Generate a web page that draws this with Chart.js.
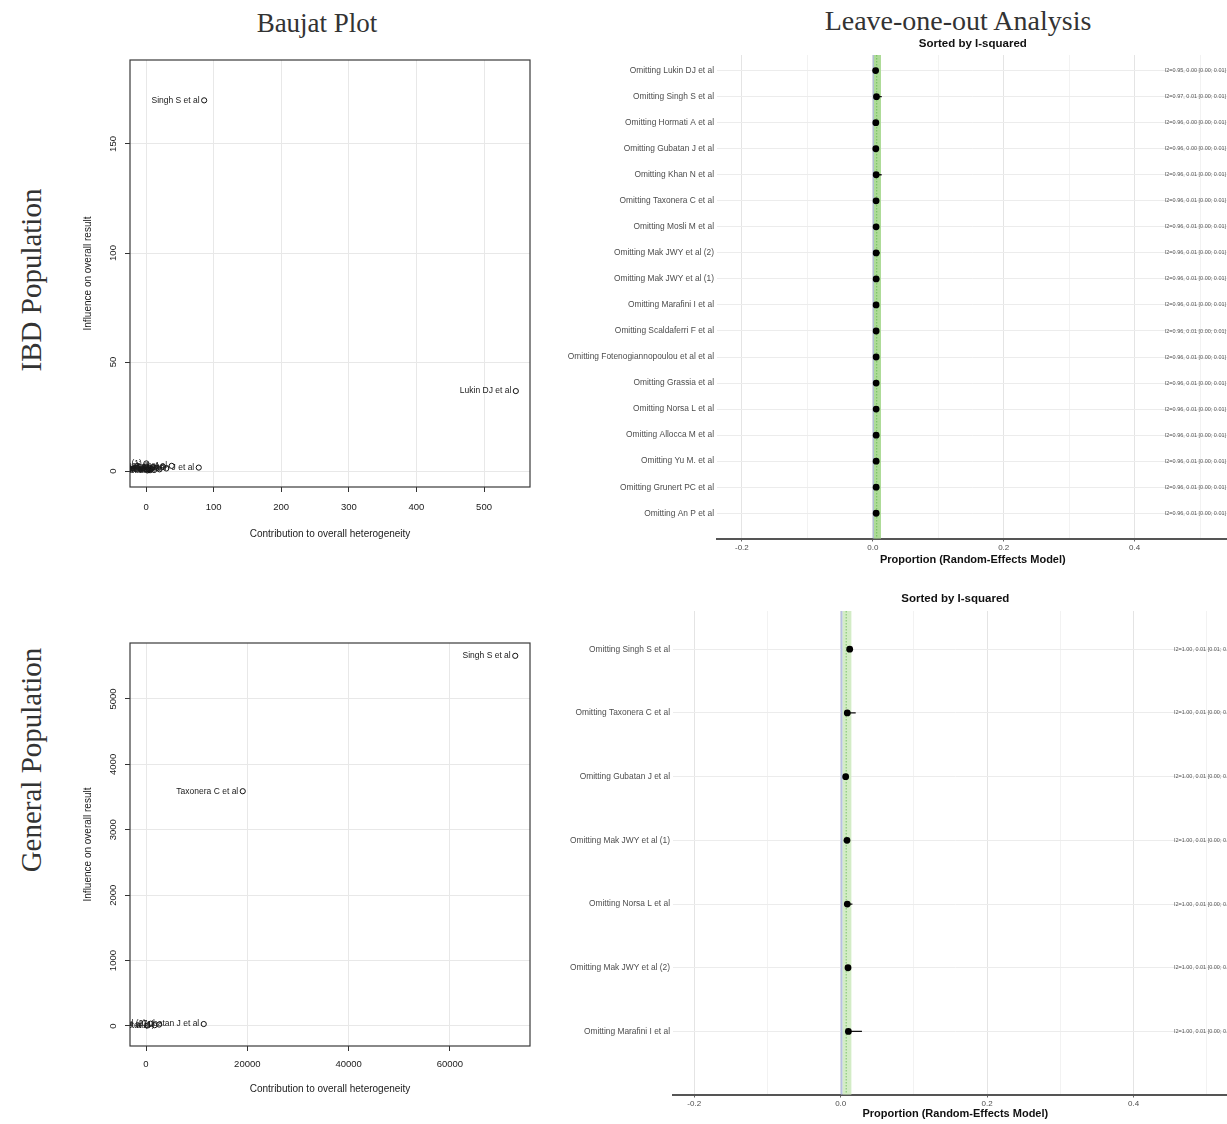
<!DOCTYPE html>
<html>
<head>
<meta charset="utf-8">
<title>Baujat Plot and Leave-one-out Analysis</title>
<script src="https://cdn.jsdelivr.net/npm/chart.js@4.4.1/dist/chart.umd.min.js"></script>
<style>
  html, body { margin:0; padding:0; background:#fff; }
  body { position:relative; width:1227px; height:1124px; overflow:hidden; }
  canvas { position:absolute; }
  .serif { position:absolute; font-family:"Liberation Serif","DejaVu Serif",serif; color:#333; white-space:nowrap; transform:translate(-50%,-50%); line-height:1; }
  .vert { transform:translate(-50%,-50%) rotate(-90deg); }
</style>
</head>
<body>
<div class="serif" style="left:317px;top:23px;font-size:27px;">Baujat Plot</div>
<div class="serif" style="left:958px;top:21px;font-size:28px;">Leave-one-out Analysis</div>
<div class="serif vert" style="left:31px;top:280px;font-size:29px;">IBD Population</div>
<div class="serif vert" style="left:31px;top:760px;font-size:29px;">General Population</div>
<canvas id="baujatIbd" width="510" height="510" style="left:40px;top:50px"></canvas>
<canvas id="baujatGen" width="510" height="510" style="left:40px;top:633px"></canvas>
<canvas id="looIbd" width="672" height="545" style="left:560px;top:30px"></canvas>
<canvas id="looGen" width="681" height="539" style="left:560px;top:585px"></canvas>
<script>
Chart.defaults.font.family = '"Liberation Sans", Arial, sans-serif';
Chart.defaults.animation = false;

// ---------- Baujat plot, IBD population ----------
const ibdBaujatStudies = ["Singh S et al", "Lukin DJ et al", "Gubatan J et al", "Hormati A et al", "Khan N et al",
  "Taxonera C et al", "Mosli M et al", "Mak JWY et al (2)", "Marafini I et al", "Scaldaferri F et al",
  "Fotenogiannopoulou et al et al", "Grassia et al", "Norsa L et al", "Allocca M et al", "Yu M. et al",
  "Grunert PC et al", "An P et al", "Mak JWY et al (1)"];
const ibdBaujatHeterogeneity = [86, 547, 78, 38, 30, 25, 20, 16, 12, 10, 8, 6, 5, 4, 3, 2, 1, 0.5];
const ibdBaujatInfluence = [170, 36.7, 1.6, 2.4, 1.2, 2.0, 0.8, 1.5, 0.5, 1.8, 1.0, 0.4, 1.3, 0.6, 0.9, 0.3, 0.7, 3.5];
const ibdBaujatXTicks = [0, 100, 200, 300, 400, 500];
const ibdBaujatYTicks = [0, 50, 100, 150];

// ---------- Baujat plot, general population ----------
const genBaujatStudies = ["Singh S et al", "Taxonera C et al", "Gubatan J et al", "Mak JWY et al (1)",
  "Norsa L et al", "Mak JWY et al (2)", "Marafini I et al"];
const genBaujatHeterogeneity = [72900, 19100, 11400, 2600, 1700, 900, 300];
const genBaujatInfluence = [5660, 3590, 30, 22, 12, 35, 8];
const genBaujatXTicks = [0, 20000, 40000, 60000];
const genBaujatYTicks = [0, 1000, 2000, 3000, 4000, 5000];

// ---------- Leave-one-out, IBD population (sorted by I-squared) ----------
const ibdLooLabels = ["Omitting Lukin DJ et al", "Omitting Singh S et al", "Omitting Hormati A et al",
  "Omitting Gubatan J et al", "Omitting Khan N et al", "Omitting Taxonera C et al", "Omitting Mosli M et al",
  "Omitting Mak JWY et al (2)", "Omitting Mak JWY et al (1)", "Omitting Marafini I et al",
  "Omitting Scaldaferri F et al", "Omitting Fotenogiannopoulou et al et al", "Omitting Grassia et al",
  "Omitting Norsa L et al", "Omitting Allocca M et al", "Omitting Yu M. et al", "Omitting Grunert PC et al",
  "Omitting An P et al"];
const ibdLooEstimate = [0.0043, 0.0056, 0.0046, 0.0046, 0.0051, 0.0050, 0.0050, 0.0051, 0.0051, 0.0050,
  0.0051, 0.0051, 0.0051, 0.0051, 0.0051, 0.0051, 0.0051, 0.0051];
const ibdLooLower = [0.0020, 0.0030, 0.0022, 0.0022, 0.0025, 0.0025, 0.0025, 0.0025, 0.0025, 0.0025,
  0.0025, 0.0025, 0.0025, 0.0025, 0.0025, 0.0025, 0.0025, 0.0025];
const ibdLooUpper = [0.0085, 0.0137, 0.0090, 0.0090, 0.0135, 0.0095, 0.0095, 0.0110, 0.0100, 0.0095,
  0.0095, 0.0095, 0.0095, 0.0095, 0.0095, 0.0095, 0.0095, 0.0095];
const ibdLooStats = ["I2=0.95, 0.00 [0.00; 0.01]", "I2=0.97, 0.01 [0.00; 0.01]", "I2=0.96, 0.00 [0.00; 0.01]",
  "I2=0.96, 0.00 [0.00; 0.01]", "I2=0.96, 0.01 [0.00; 0.01]", "I2=0.96, 0.01 [0.00; 0.01]",
  "I2=0.96, 0.01 [0.00; 0.01]", "I2=0.96, 0.01 [0.00; 0.01]", "I2=0.96, 0.01 [0.00; 0.01]",
  "I2=0.96, 0.01 [0.00; 0.01]", "I2=0.96, 0.01 [0.00; 0.01]", "I2=0.96, 0.01 [0.00; 0.01]",
  "I2=0.96, 0.01 [0.00; 0.01]", "I2=0.96, 0.01 [0.00; 0.01]", "I2=0.96, 0.01 [0.00; 0.01]",
  "I2=0.96, 0.01 [0.00; 0.01]", "I2=0.96, 0.01 [0.00; 0.01]", "I2=0.96, 0.01 [0.00; 0.01]"];
const ibdPooledBlue = [0, 0.0016];
const ibdPooledGreen = [0.0016, 0.0125];
const ibdPooledLine = 0.006;

// ---------- Leave-one-out, general population (sorted by I-squared) ----------
const genLooLabels = ["Omitting Singh S et al", "Omitting Taxonera C et al", "Omitting Gubatan J et al",
  "Omitting Mak JWY et al (1)", "Omitting Norsa L et al", "Omitting Mak JWY et al (2)", "Omitting Marafini I et al"];
const genLooEstimate = [0.0123, 0.0090, 0.0068, 0.0086, 0.0090, 0.0100, 0.0105];
const genLooLower = [0.0095, 0.0060, 0.0045, 0.0060, 0.0062, 0.0072, 0.0075];
const genLooUpper = [0.0160, 0.0205, 0.0100, 0.0125, 0.0160, 0.0140, 0.0290];
const genLooStats = ["I2=1.00, 0.01 [0.01; 0.02]", "I2=1.00, 0.01 [0.00; 0.02]", "I2=1.00, 0.01 [0.00; 0.01]",
  "I2=1.00, 0.01 [0.00; 0.01]", "I2=1.00, 0.01 [0.00; 0.02]", "I2=1.00, 0.01 [0.00; 0.01]", "I2=1.00, 0.01 [0.00; 0.03]"];
const genPooledBlue = [0, 0.0027];
const genPooledGreen = [0.0027, 0.0146];
const genPooledLine = 0.0075;

const looXTicks = [-0.2, -0.1, 0, 0.1, 0.2, 0.3, 0.4, 0.5];
const looMajorTicks = [-0.2, 0, 0.2, 0.4];

// ---------------------------------------------------------------
const isMajor = v => looMajorTicks.some(m => Math.abs(m - v) < 1e-9);

function baujat(id, names, xs, ys, xTicks, yTicks, g) {
  const boxPlugin = {
    id: 'box',
    beforeDatasetsDraw(chart) {
      const { ctx, chartArea: a } = chart;
      ctx.save();
      ctx.strokeStyle = '#3a3a3a';
      ctx.lineWidth = 1.2;
      ctx.strokeRect(a.left, a.top, a.right - a.left, a.bottom - a.top);
      ctx.restore();
    }
  };
  const labelPlugin = {
    id: 'studyLabels',
    afterDatasetsDraw(chart) {
      const { ctx, chartArea: a } = chart;
      const meta = chart.getDatasetMeta(0);
      ctx.save();
      ctx.beginPath();
      ctx.rect(a.left, a.top, a.right - a.left, a.bottom - a.top);
      ctx.clip();
      ctx.font = '8.5px "Liberation Sans", Arial, sans-serif';
      ctx.fillStyle = '#1a1a1a';
      ctx.textAlign = 'right';
      ctx.textBaseline = 'middle';
      meta.data.forEach((pt, i) => ctx.fillText(names[i], pt.x - 4.5, pt.y));
      ctx.restore();
    }
  };
  new Chart(document.getElementById(id), {
    type: 'scatter',
    data: { datasets: [{
      label: 'Studies',
      data: xs.map((v, i) => ({ x: v, y: ys[i] })),
      pointRadius: 2.6, pointHoverRadius: 2.6, pointBorderWidth: 1,
      pointBorderColor: '#111', pointBackgroundColor: 'rgba(0,0,0,0)'
    }] },
    options: {
      responsive: false, devicePixelRatio: 1, animation: false, events: [],
      layout: { padding: { left: 0, top: 10, right: 20, bottom: g.padBottom } },
      plugins: { legend: { display: false }, tooltip: { enabled: false } },
      scales: {
        x: {
          type: 'linear', min: g.xMin, max: g.xMax,
          afterBuildTicks: s => { s.ticks = xTicks.map(v => ({ value: v })); },
          afterFit: s => { s.height = 60; },
          ticks: { autoSkip: false, maxRotation: 0, padding: g.xTickPad, color: '#1a1a1a', font: { size: 9.5 },
                   callback: v => String(v) },
          grid: { color: '#e8e8e8', lineWidth: 1, tickColor: '#333', tickLength: 5 },
          border: { display: false },
          title: { display: true, text: 'Contribution to overall heterogeneity', color: '#1a1a1a',
                   font: { size: 10 }, padding: { top: 0, bottom: g.xTitlePad } }
        },
        y: {
          type: 'linear', min: g.yMin, max: g.yMax,
          afterBuildTicks: s => { s.ticks = yTicks.map(v => ({ value: v })); },
          afterFit: s => { s.width = 90; },
          ticks: { autoSkip: false, minRotation: 90, maxRotation: 90, crossAlign: 'center',
                   padding: g.yTickPad, color: '#1a1a1a', font: { size: 9.5 },
                   callback: v => String(v) },
          grid: { color: '#e8e8e8', lineWidth: 1, tickColor: '#333', tickLength: 5 },
          border: { display: false },
          title: { display: true, text: 'Influence on overall result', color: '#1a1a1a',
                   font: { size: 10 }, padding: { top: 42, bottom: 0 } }
        }
      }
    },
    plugins: [boxPlugin, labelPlugin]
  });
}

function forest(id, labels, est, lo, hi, stats, blue, green, refLine, g) {
  const forestPlugin = {
    id: 'forestMarks',
    beforeDatasetsDraw(chart) {
      const { ctx, chartArea: a, scales: { x, y } } = chart;
      ctx.save();
      const bx0 = x.getPixelForValue(blue[0]), bx1 = x.getPixelForValue(blue[1]);
      const gx0 = x.getPixelForValue(green[0]), gx1 = x.getPixelForValue(green[1]);
      ctx.fillStyle = g.blueColor;
      ctx.fillRect(bx0, a.top, bx1 - bx0, a.bottom - a.top);
      ctx.fillStyle = g.greenColor;
      ctx.fillRect(gx0, a.top, gx1 - gx0, a.bottom - a.top);
      ctx.strokeStyle = g.dotColor;
      ctx.lineWidth = 1;
      ctx.setLineDash([1.5, 1.5]);
      const rx = x.getPixelForValue(refLine);
      ctx.beginPath(); ctx.moveTo(rx, a.top); ctx.lineTo(rx, a.bottom); ctx.stroke();
      ctx.setLineDash([]);
      ctx.strokeStyle = '#111';
      ctx.lineWidth = 1.3;
      ctx.beginPath();
      lo.forEach((l, i) => {
        const yy = y.getPixelForValue(i);
        ctx.moveTo(x.getPixelForValue(l), yy);
        ctx.lineTo(x.getPixelForValue(hi[i]), yy);
      });
      ctx.stroke();
      ctx.restore();
    },
    afterDatasetsDraw(chart) {
      const { ctx, scales: { x, y } } = chart;
      ctx.save();
      ctx.font = '5.5px "Liberation Sans", Arial, sans-serif';
      ctx.fillStyle = '#555';
      ctx.textAlign = 'left';
      ctx.textBaseline = 'middle';
      stats.forEach((s, i) => ctx.fillText(s, x.getPixelForValue(g.statX), y.getPixelForValue(i)));
      ctx.restore();
    }
  };
  new Chart(document.getElementById(id), {
    type: 'scatter',
    data: { datasets: [{
      label: 'Leave-one-out estimate',
      data: est.map((v, i) => ({ x: v, y: i })),
      pointRadius: 3.4, pointHoverRadius: 3.4, pointBorderWidth: 0, pointBackgroundColor: '#000'
    }] },
    options: {
      responsive: false, devicePixelRatio: 1, animation: false, events: [],
      layout: { padding: { left: 0, top: 0, right: 3, bottom: 0 } },
      plugins: {
        legend: { display: false }, tooltip: { enabled: false },
        title: { display: true, text: 'Sorted by I-squared', fullSize: false, color: '#111',
                 font: { size: 11.5, weight: 'bold' }, padding: { top: g.titlePadT, bottom: g.titlePadB } }
      },
      scales: {
        x: {
          type: 'linear', min: g.xMin, max: g.xMax,
          afterBuildTicks: s => { s.ticks = looXTicks.map(v => ({ value: v })); },
          afterFit: s => { s.height = g.xAxisH; },
          ticks: { autoSkip: false, maxRotation: 0, padding: 1, color: '#4d4d4d', font: { size: 8 },
                   callback: v => isMajor(v) ? v.toFixed(1) : '' },
          grid: {
            color: c => (c.tick && isMajor(c.tick.value)) ? '#e4e4e4' : '#f2f2f2',
            lineWidth: 1, tickLength: 3,
            tickColor: c => (c.tick && isMajor(c.tick.value)) ? '#666' : 'rgba(0,0,0,0)'
          },
          border: { display: true, color: '#555', width: 2 },
          title: { display: true, text: 'Proportion (Random-Effects Model)', color: '#111',
                   font: { size: 11, weight: 'bold' }, padding: { top: 0, bottom: g.xTitlePad } }
        },
        y: {
          type: 'linear', reverse: true, min: -0.6, max: g.yMax,
          afterBuildTicks: s => { s.ticks = labels.map((_, i) => ({ value: i })); },
          afterFit: s => { s.width = g.yAxisW; },
          ticks: { autoSkip: false, padding: 3, color: '#4d4d4d', font: { size: 8.4 },
                   callback: v => labels[Math.round(v)] },
          grid: { color: '#ececec', lineWidth: 1, drawTicks: false },
          border: { display: false }
        }
      }
    },
    plugins: [forestPlugin]
  });
}

baujat('baujatIbd', ibdBaujatStudies, ibdBaujatHeterogeneity, ibdBaujatInfluence, ibdBaujatXTicks, ibdBaujatYTicks,
  { xMin: -23.7, xMax: 568, yMin: -7.3, yMax: 188.5, padBottom: 13, xTickPad: 9.5, xTitlePad: 7, yTickPad: 4 });
baujat('baujatGen', genBaujatStudies, genBaujatHeterogeneity, genBaujatInfluence, genBaujatXTicks, genBaujatYTicks,
  { xMin: -3159, xMax: 75814, yMin: -306, yMax: 5856, padBottom: 37, xTickPad: 7.5, xTitlePad: 11, yTickPad: 1.5 });

forest('looIbd', ibdLooLabels, ibdLooEstimate, ibdLooLower, ibdLooUpper, ibdLooStats,
  ibdPooledBlue, ibdPooledGreen, ibdPooledLine,
  { xMin: -0.238, xMax: 0.5435, yMax: 17.97, yAxisW: 157, xAxisH: 36.5, xTitlePad: 8.8,
    titlePadT: 7.1, titlePadB: 4.1, statX: 0.446,
    blueColor: '#9fb0d6', greenColor: '#aedb98', dotColor: '#6fbf5a' });
forest('looGen', genLooLabels, genLooEstimate, genLooLower, genLooUpper, genLooStats,
  genPooledBlue, genPooledGreen, genPooledLine,
  { xMin: -0.229, xMax: 0.542, yMax: 6.99, yAxisW: 113, xAxisH: 29.5, xTitlePad: 3.3,
    titlePadT: 7.1, titlePadB: 5.1, statX: 0.455,
    blueColor: '#b7bfe2', greenColor: '#d3ecc6', dotColor: '#7cc36a' });
</script>
</body>
</html>
